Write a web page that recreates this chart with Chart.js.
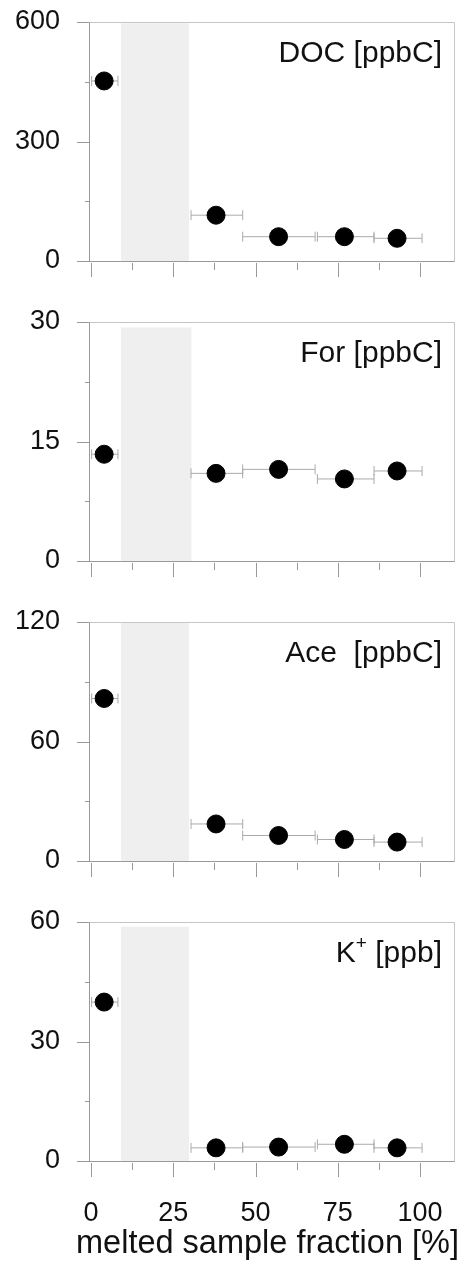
<!DOCTYPE html>
<html>
<head>
<meta charset="utf-8">
<script src="https://cdn.jsdelivr.net/npm/chart.js@4.4.1/dist/chart.umd.min.js"></script>
<style>
  body { margin: 0; background: #fff; width: 475px; height: 1262px; overflow: hidden; }
  canvas { display: block; }
</style>
</head>
<body>
<canvas id="p0" width="475" height="300"></canvas>
<canvas id="p1" width="475" height="300"></canvas>
<canvas id="p2" width="475" height="300"></canvas>
<canvas id="p3" width="475" height="362"></canvas>
<script>
// melted sample fraction [%] - point centres and horizontal error bar ends
const xMid = [4, 38, 57, 77, 93];
const xLow = [0.2, 30.4, 46.1, 68.8, 86];
const xHigh = [8.2, 46.1, 68.1, 86, 100.6];

// concentrations per panel
const docValues = [452, 115, 61, 61, 57];
const forValues = [13.4, 11.0, 11.5, 10.3, 11.3];
const aceValues = [81.6, 18.6, 12.8, 10.8, 9.5];
const kValues = [39.9, 3.3, 3.5, 4.2, 3.3];

// panel labels (odd segments are superscript)
const titles = [['DOC [ppbC]'], ['For [ppbC]'], ['Ace  [ppbC]'], ['K', '+', ' [ppb]']];
const yMax = [600, 30, 120, 60];

// grey band
const shadeStart = [9.1, 9.1, 9.1, 9.1];
const shadeEnd = [29.8, 30.6, 29.8, 29.8];
const shadeTop = [597, 29.3, 120, 58.8];

const xTicks = [0, 12.5, 25, 37.5, 50, 62.5, 75, 87.5, 100];
const xTitle = 'melted sample fraction [%]';

const FONT = "'Liberation Sans', Arial, sans-serif";
const AXIS = '#999';
const FRAME = '#c6c6c6';
const ERR = '#aaa';

// frame, tick marks, panel label and (last panel) x axis title
const panelDecor = {
  id: 'panelDecor',
  afterDatasetsDraw(chart, args, opts) {
    const ctx = chart.ctx;
    const a = chart.chartArea;
    const ys = chart.scales.y, xs = chart.scales.x;
    ctx.save();
    ctx.lineWidth = 1;
    // top and right frame
    ctx.strokeStyle = FRAME;
    ctx.beginPath();
    ctx.moveTo(Math.round(a.left) + 0.5, Math.round(a.top) + 0.5);
    ctx.lineTo(Math.round(a.right) + 0.5, Math.round(a.top) + 0.5);
    ctx.lineTo(Math.round(a.right) + 0.5, Math.round(a.bottom) + 0.5);
    ctx.stroke();
    // y ticks
    ctx.strokeStyle = AXIS;
    ctx.beginPath();
    ys.ticks.forEach(t => {
      const py = Math.round(ys.getPixelForValue(t.value)) + 0.5;
      const len = (t.value % (opts.max / 2) === 0) ? 12 : 4;
      ctx.moveTo(a.left - len, py);
      ctx.lineTo(a.left, py);
    });
    // x ticks hanging below the frame
    xs.ticks.forEach(t => {
      const px = Math.round(xs.getPixelForValue(t.value)) + 0.5;
      const len = (t.value % 25 === 0) ? 14 : 7;
      ctx.moveTo(px, a.bottom + 2);
      ctx.lineTo(px, a.bottom + 2 + len);
    });
    ctx.stroke();
    // label, right aligned inside the plot
    const big = '30px ' + FONT, small = '19px ' + FONT;
    let x = a.right - 12;
    const y = a.top + 32;
    ctx.fillStyle = '#111';
    ctx.textBaseline = 'middle';
    ctx.textAlign = 'right';
    for (let i = opts.parts.length - 1; i >= 0; i--) {
      const sup = i % 2 === 1;
      ctx.font = sup ? small : big;
      ctx.fillText(opts.parts[i], x, sup ? y - 10 : y);
      x -= ctx.measureText(opts.parts[i]).width;
    }
    // x title is wider than the plot, so it is drawn here without clipping
    if (opts.xTitle) {
      ctx.font = '32.5px ' + FONT;
      ctx.textAlign = 'center';
      ctx.fillText(opts.xTitle, (a.left + a.right) / 2 - 4, a.bottom + 83);
    }
    ctx.restore();
  }
};

function makePanel(i, values, last) {
  const canvas = document.getElementById('p' + i);
  const datasets = [];

  datasets.push({
    type: 'line',
    data: [{ x: shadeStart[i], y: shadeTop[i] }, { x: shadeEnd[i], y: shadeTop[i] }],
    fill: 'origin',
    backgroundColor: '#efefef',
    borderWidth: 0,
    pointRadius: 0,
    order: 3
  });

  xMid.forEach((m, k) => {
    datasets.push({
      type: 'line',
      data: [{ x: xLow[k], y: values[k] }, { x: xHigh[k], y: values[k] }],
      borderColor: ERR,
      borderWidth: 1,
      pointStyle: 'line',
      rotation: 90,
      pointRadius: 5,
      pointBorderColor: ERR,
      pointBorderWidth: 1,
      fill: false,
      order: 2
    });
  });

  datasets.push({
    type: 'scatter',
    data: xMid.map((x, k) => ({ x: x, y: values[k] })),
    backgroundColor: '#000',
    borderColor: '#000',
    pointRadius: 9,
    pointHoverRadius: 9,
    order: 1
  });

  new Chart(canvas, {
    type: 'scatter',
    data: { datasets: datasets },
    plugins: [panelDecor],
    options: {
      responsive: false,
      animation: false,
      layout: { padding: { top: 22, right: 21, bottom: 0, left: 0 } },
      plugins: {
        legend: { display: false },
        tooltip: { enabled: false },
        panelDecor: { parts: titles[i], max: yMax[i], xTitle: last ? xTitle : '' }
      },
      scales: {
        x: {
          type: 'linear',
          min: -0.6,
          max: 110.3,
          afterBuildTicks: s => { s.ticks = xTicks.map(v => ({ value: v })); },
          afterFit: s => {
            s.height = canvas.height - 22 - 239;
            s.paddingLeft = 0; s.paddingRight = 0;
          },
          grid: { display: false, drawTicks: false },
          border: { display: true, color: AXIS, width: 1 },
          ticks: {
            display: last,
            autoSkip: false,
            maxRotation: 0,
            padding: 36,
            color: '#111',
            font: { family: FONT, size: 27 },
            callback: v => (v % 25 === 0 ? String(v) : '')
          }
        },
        y: {
          min: 0,
          max: yMax[i],
          afterBuildTicks: s => {
            const step = yMax[i] / 4;
            s.ticks = [0, 1, 2, 3, 4].map(n => ({ value: n * step }));
          },
          afterFit: s => {
            s.width = 89;
            s.paddingTop = 0; s.paddingBottom = 0;
          },
          grid: { display: false, drawTicks: false },
          border: { display: true, color: AXIS, width: 1 },
          ticks: {
            padding: 29,
            color: '#111',
            font: { family: FONT, size: 27 },
            callback: v => (v % (yMax[i] / 2) === 0 ? String(v) : '')
          }
        }
      }
    }
  });
}

makePanel(0, docValues, false);
makePanel(1, forValues, false);
makePanel(2, aceValues, false);
makePanel(3, kValues, true);
</script>
</body>
</html>
